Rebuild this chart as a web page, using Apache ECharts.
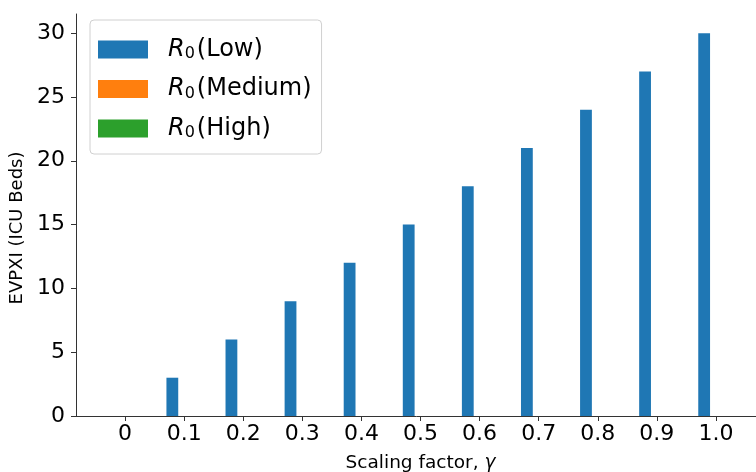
<!DOCTYPE html>
<html>
<head>
<meta charset="utf-8">
<script src="https://cdn.jsdelivr.net/npm/echarts@6/dist/echarts.min.js"></script>
<style>
  html, body { margin: 0; padding: 0; background: #fff; }
  #chart { width: 756px; height: 472px; }
</style>
</head>
<body>
<div id="chart"></div>
<script>
// scaling factor gamma, one category per tick
const gammaLabels = ['0', '0.1', '0.2', '0.3', '0.4', '0.5', '0.6', '0.7', '0.8', '0.9', '1.0'];
const lowValues = [0, 3, 6, 9, 12, 15, 18, 21, 24, 27, 30];
const mediumValues = [0, 0, 0, 0, 0, 0, 0, 0, 0, 0, 0];
const highValues = [0, 0, 0, 0, 0, 0, 0, 0, 0, 0, 0];
const yTicks = [0, 5, 10, 15, 20, 25, 30];

const xPos = gammaLabels.map(function (l, i) { return i; });
const pair = function (vals) {
  return vals.map(function (v, i) { return [xPos[i], v]; });
};

const font = 'DejaVu Sans';
const myChart = echarts.init(document.getElementById('chart'));

const legendRich = {
  r: {fontFamily: font, fontSize: 24, fontStyle: 'italic', color: '#000', lineHeight: 26},
  s: {fontFamily: font, fontSize: 16, color: '#000', lineHeight: 26, padding: [9, 2, 0, 0]},
  t: {fontFamily: font, fontSize: 24, color: '#000', lineHeight: 26}
};

const barSeries = function (name, color, vals) {
  return {
    name: name,
    type: 'bar',
    data: pair(vals),
    barWidth: 11.8,
    barGap: '0%',
    itemStyle: {color: color},
    animation: false
  };
};

const option = {
  backgroundColor: '#fff',
  grid: {
    left: 76,
    top: 14,
    width: 689,
    bottom: 56,
    outerBoundsMode: 'none'
  },
  legend: {
    orient: 'vertical',
    left: 90,
    top: 20,
    padding: [17, 10, 13, 8],
    itemWidth: 50,
    itemHeight: 18,
    itemGap: 14.5,
    icon: 'rect',
    borderColor: '#d0d0d0',
    borderWidth: 1,
    borderRadius: 4,
    backgroundColor: '#fff',
    data: ['Low', 'Medium', 'High'],
    formatter: function (name) {
      return '{r|R}{s|0}{t|(' + name + ')}';
    },
    textStyle: {
      padding: [0, 0, 0, 15],
      rich: legendRich
    }
  },
  xAxis: {
    type: 'value',
    min: -0.83,
    max: 10.83,
    name: 'Scaling factor, {g|γ}',
    nameLocation: 'middle',
    nameGap: 38,
    nameTextStyle: {
      fontFamily: font,
      fontSize: 18.5,
      color: '#000',
      rich: {
        g: {fontFamily: font, fontSize: 18.5, fontStyle: 'italic', color: '#000'}
      }
    },
    splitLine: {show: false},
    axisLine: {show: true, onZero: false, lineStyle: {color: '#333', width: 1}},
    axisTick: {
      show: true,
      customValues: xPos,
      length: 5,
      lineStyle: {color: '#333'}
    },
    axisLabel: {
      customValues: xPos,
      margin: 7,
      fontFamily: font,
      fontSize: 22,
      color: '#000',
      formatter: function (v) {
        return gammaLabels[Math.round(v)];
      }
    }
  },
  yAxis: {
    type: 'value',
    min: 0,
    max: 31.5,
    name: '{a|EVPXI (ICU Beds)}{p|}',
    nameLocation: 'middle',
    nameGap: 43,
    nameTextStyle: {
      fontFamily: font,
      fontSize: 18,
      color: '#000',
      rich: {
        a: {fontFamily: font, fontSize: 18, color: '#000'},
        p: {width: 26}
      }
    },
    splitLine: {show: false},
    axisLine: {show: true, onZero: false, lineStyle: {color: '#333', width: 1}},
    axisTick: {
      show: true,
      customValues: yTicks,
      length: 5,
      lineStyle: {color: '#333'}
    },
    axisLabel: {
      customValues: yTicks,
      margin: 11,
      fontFamily: font,
      fontSize: 22,
      color: '#000'
    }
  },
  series: [
    barSeries('Low', '#1f77b4', lowValues),
    barSeries('Medium', '#ff7f0e', mediumValues),
    barSeries('High', '#2ca02c', highValues)
  ]
};

myChart.setOption(option);
</script>
</body>
</html>
